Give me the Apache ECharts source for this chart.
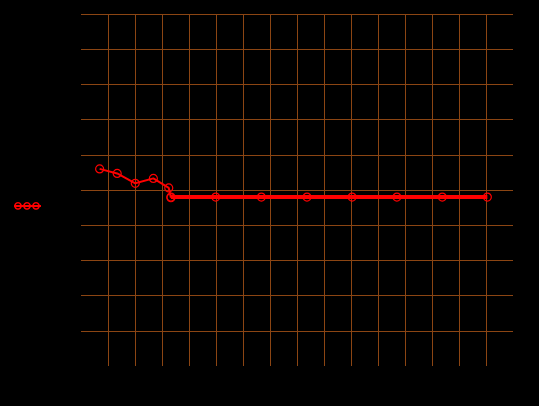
<!DOCTYPE html>
<html>
<head>
<meta charset="utf-8">
<script src="https://cdn.jsdelivr.net/npm/echarts@6/dist/echarts.min.js"></script>
<style>
  html, body { margin: 0; padding: 0; background: #000000; }
  #chart { width: 539px; height: 406px; }
</style>
</head>
<body>
<div id="chart"></div>
<script>
// early, finer run
var thinX = [0.69, 1.34, 2.01, 2.68, 3.25, 3.33]
var thinY = [5.60, 5.47, 5.19, 5.33, 5.06, 4.78]
// later, steady run
var thickX = [3.33, 4.99, 6.68, 8.37, 10.04, 11.70, 13.38, 15.05]
var thickY = [4.80, 4.80, 4.80, 4.80, 4.80, 4.80, 4.80, 4.80]

var xMin = 0, xMax = 16, yMin = 0, yMax = 10

function pairs(xs, ys) {
  var out = []
  for (var i = 0; i < xs.length; i++) {
    out.push([xs[i], ys[i]])
  }
  return out
}

// legend icon: a line with three rings on it (outer polygon one way, inner the other way)
function circlePath(cx, cy, r, dir) {
  var n = 24
  var s = ''
  for (var i = 0; i <= n; i++) {
    var a = dir * i / n * Math.PI * 2
    s += (i === 0 ? 'M' : 'L') + (cx + r * Math.cos(a)).toFixed(2) + ',' + (cy + r * Math.sin(a)).toFixed(2) + ' '
  }
  return s + 'Z '
}
function ring(cx, cy) {
  return circlePath(cx, cy, 3.9, 1) + circlePath(cx, cy, 2.4, -1)
}
var legendIcon = 'path://M0,2.9 L27,2.9 L27,4.9 L0,4.9 Z ' + ring(4, 3.9) + ring(13, 3.9) + ring(22, 3.9)

var myChart = echarts.init(document.getElementById('chart'))
var gridColor = '#8b4513'
var option = {
  backgroundColor: '#000000',
  animation: false,
  grid: {
    left: 81,
    right: 26,
    top: 14,
    bottom: 40
  },
  legend: {
    data: ['early'],
    left: 14,
    top: 202,
    padding: 0,
    itemWidth: 27,
    itemHeight: 7.8,
    icon: legendIcon,
    formatter: function() { return '' },
    itemStyle: { color: '#ff0000', borderWidth: 0, borderColor: 'rgba(0,0,0,0)' }
  },
  xAxis: {
    type: 'value',
    min: xMin,
    max: xMax,
    interval: 1,
    axisLine: { show: false },
    axisTick: { show: false },
    axisLabel: { show: false },
    splitLine: {
      show: true,
      showMinLine: false,
      showMaxLine: false,
      lineStyle: { color: gridColor, width: 1 }
    }
  },
  yAxis: {
    type: 'value',
    min: yMin,
    max: yMax,
    interval: 1,
    axisLine: { show: false },
    axisTick: { show: false },
    axisLabel: { show: false },
    splitLine: {
      show: true,
      showMinLine: false,
      showMaxLine: true,
      lineStyle: { color: gridColor, width: 1 }
    }
  },
  series: [
    {
      name: 'late',
      type: 'line',
      data: pairs(thickX, thickY),
      symbol: 'circle',
      symbolSize: 8,
      lineStyle: { color: '#ff0000', width: 4 },
      itemStyle: { color: 'rgba(0,0,0,0)', borderColor: '#ff0000', borderWidth: 1.2 }
    },
    {
      name: 'early',
      type: 'line',
      data: pairs(thinX, thinY),
      symbol: 'circle',
      symbolSize: 8,
      lineStyle: { color: '#ff0000', width: 2 },
      itemStyle: { color: 'rgba(0,0,0,0)', borderColor: '#ff0000', borderWidth: 1.2 }
    }
  ]
}
myChart.setOption(option, true)
window.addEventListener('resize', () => {
  myChart.resize()
})
</script>
</body>
</html>
